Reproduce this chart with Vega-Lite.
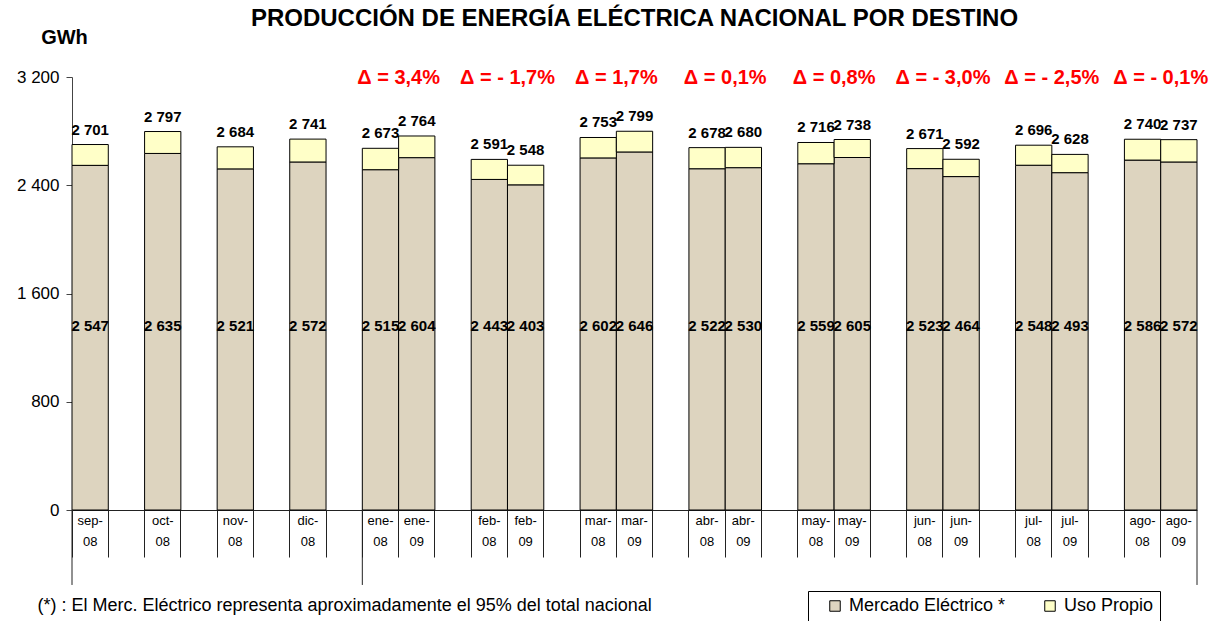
{
  "$schema": "https://vega.github.io/schema/vega-lite/v6.json",
  "width": 1125,
  "height": 433,
  "autosize": {"type": "none"},
  "padding": {"left": 72, "top": 77, "right": 32, "bottom": 111},
  "background": "white",
  "config": {
    "view": {"stroke": null},
    "font": "Liberation Sans",
    "axis": {"grid": false},
    "locale": {"number": {"decimal": ",", "thousands": " ", "grouping": [3], "currency": ["", ""]}}
  },
  "title": {
    "text": "PRODUCCIÓN DE ENERGÍA ELÉCTRICA NACIONAL POR DESTINO",
    "font": "Liberation Sans",
    "fontSize": 24,
    "fontWeight": "bold",
    "color": "black",
    "anchor": "middle",
    "frame": "group",
    "baseline": "alphabetic",
    "offset": -23
  },
  "datasets": {
    "bars": [
      {"mes": "sep-08", "mercado": 2547, "total": 2701},
      {"mes": "oct-08", "mercado": 2635, "total": 2797},
      {"mes": "nov-08", "mercado": 2521, "total": 2684},
      {"mes": "dic-08", "mercado": 2572, "total": 2741},
      {"mes": "ene-08", "mercado": 2515, "total": 2673},
      {"mes": "ene-09", "mercado": 2604, "total": 2764},
      {"mes": "feb-08", "mercado": 2443, "total": 2591},
      {"mes": "feb-09", "mercado": 2403, "total": 2548},
      {"mes": "mar-08", "mercado": 2602, "total": 2753},
      {"mes": "mar-09", "mercado": 2646, "total": 2799},
      {"mes": "abr-08", "mercado": 2522, "total": 2678},
      {"mes": "abr-09", "mercado": 2530, "total": 2680},
      {"mes": "may-08", "mercado": 2559, "total": 2716},
      {"mes": "may-09", "mercado": 2605, "total": 2738},
      {"mes": "jun-08", "mercado": 2523, "total": 2671},
      {"mes": "jun-09", "mercado": 2464, "total": 2592},
      {"mes": "jul-08", "mercado": 2548, "total": 2696},
      {"mes": "jul-09", "mercado": 2493, "total": 2628},
      {"mes": "ago-08", "mercado": 2586, "total": 2740},
      {"mes": "ago-09", "mercado": 2572, "total": 2737}
    ],
    "deltas": [
      {"mes": "ene-09", "delta": "Δ = 3,4%"},
      {"mes": "feb-09", "delta": "Δ = - 1,7%"},
      {"mes": "mar-09", "delta": "Δ = 1,7%"},
      {"mes": "abr-09", "delta": "Δ = 0,1%"},
      {"mes": "may-09", "delta": "Δ = 0,8%"},
      {"mes": "jun-09", "delta": "Δ = - 3,0%"},
      {"mes": "jul-09", "delta": "Δ = - 2,5%"},
      {"mes": "ago-09", "delta": "Δ = - 0,1%"}
    ],
    "sepStart": [{"mes": "sep-08"}, {"mes": "ene-08"}],
    "sepEnd": [{"mes": "ago-09"}]
  },
  "layer": [
    {
      "data": {"name": "bars"},
      "mark": {"type": "bar", "stroke": "black", "strokeWidth": 1},
      "encoding": {
        "x": {
          "field": "mes",
          "type": "nominal",
          "scale": {
            "domain": ["sep-08", "_1", "oct-08", "_2", "nov-08", "_3", "dic-08", "_4", "ene-08", "ene-09", "_5", "feb-08", "feb-09", "_6", "mar-08", "mar-09", "_7", "abr-08", "abr-09", "_8", "may-08", "may-09", "_9", "jun-08", "jun-09", "_10", "jul-08", "jul-09", "_11", "ago-08", "ago-09"],
            "paddingInner": 0,
            "paddingOuter": 0
          },
          "axis": {
            "orient": "bottom",
            "bandPosition": 0,
            "tickSize": 47,
            "tickColor": "#222",
            "domainColor": "#222",
            "labelPadding": -43,
            "labelAngle": 0,
            "labelOverlap": false,
            "labelFontSize": 13,
            "labelColor": "black",
            "labelLineHeight": 21,
            "labelBaseline": "top",
            "labelExpr": "length(datum.value) > 3 ? [slice(datum.value, 0, 4), slice(datum.value, 4)] : ''",
            "title": "(*) : El Merc. Eléctrico representa aproximadamente el 95% del total nacional",
            "titleFontSize": 18,
            "titleFontWeight": "normal",
            "titleColor": "black",
            "titleAnchor": "start",
            "titleAlign": "left",
            "titleBaseline": "middle",
            "titleX": -35,
            "titleY": 95
          }
        },
        "y": {
          "field": "mercado",
          "type": "quantitative",
          "scale": {"domain": [0, 3200], "nice": false},
          "axis": {
            "values": [0, 800, 1600, 2400, 3200],
            "labelExpr": "format(datum.value, ',d')",
            "labelFontSize": 17,
            "labelColor": "black",
            "labelPadding": 7,
            "tickSize": 6,
            "tickColor": "#444",
            "domainColor": "#444",
            "title": "GWh",
            "titleAngle": 0,
            "titleFontSize": 20,
            "titleFontWeight": "bold",
            "titleColor": "black",
            "titleAlign": "center",
            "titleBaseline": "middle",
            "titleX": -8,
            "titleY": -40
          }
        },
        "color": {
          "datum": "Mercado Eléctrico *",
          "scale": {"domain": ["Mercado Eléctrico *", "Uso Propio"], "range": ["#ddd4bf", "#ffffc8"]},
          "legend": {
            "title": null,
            "orient": "none",
            "legendX": 736,
            "legendY": 514,
            "direction": "horizontal",
            "strokeColor": "black",
            "padding": 6,
            "labelFontSize": 18,
            "labelColor": "black",
            "symbolType": "square",
            "symbolSize": 110,
            "symbolOffset": 12,
            "symbolStrokeColor": "black",
            "symbolStrokeWidth": 1,
            "columnPadding": 23,
            "labelOffset": 5
          }
        }
      }
    },
    {
      "data": {"name": "bars"},
      "mark": {"type": "bar", "stroke": "black", "strokeWidth": 1},
      "encoding": {
        "x": {"field": "mes", "type": "nominal"},
        "y": {"field": "mercado", "type": "quantitative"},
        "y2": {"field": "total"},
        "color": {"datum": "Uso Propio"}
      }
    },
    {
      "data": {"name": "sepStart"},
      "mark": {"type": "rule", "color": "#222", "strokeWidth": 1},
      "encoding": {
        "x": {"field": "mes", "type": "nominal", "bandPosition": 0},
        "y": {"datum": 0, "type": "quantitative"},
        "y2": {"datum": -554}
      }
    },
    {
      "data": {"name": "sepEnd"},
      "mark": {"type": "rule", "color": "#222", "strokeWidth": 1},
      "encoding": {
        "x": {"field": "mes", "type": "nominal", "bandPosition": 1},
        "y": {"datum": 0, "type": "quantitative"},
        "y2": {"datum": -554}
      }
    },
    {
      "data": {"name": "bars"},
      "mark": {"type": "text", "fontSize": 15, "fontWeight": "bold", "color": "black", "baseline": "middle"},
      "encoding": {
        "x": {"field": "mes", "type": "nominal"},
        "y": {"datum": 1360, "type": "quantitative"},
        "text": {"field": "mercado", "type": "quantitative", "format": ","}
      }
    },
    {
      "data": {"name": "bars"},
      "mark": {"type": "text", "fontSize": 15, "fontWeight": "bold", "color": "black", "baseline": "bottom", "dy": -7},
      "encoding": {
        "x": {"field": "mes", "type": "nominal"},
        "y": {"field": "total", "type": "quantitative"},
        "text": {"field": "total", "type": "quantitative", "format": ","}
      }
    },
    {
      "data": {"name": "deltas"},
      "mark": {"type": "text", "fontSize": 20, "fontWeight": "bold", "color": "#ff0000", "baseline": "middle"},
      "encoding": {
        "x": {"field": "mes", "type": "nominal", "bandPosition": 0},
        "y": {"datum": 3190, "type": "quantitative"},
        "text": {"field": "delta", "type": "nominal"}
      }
    }
  ]
}
